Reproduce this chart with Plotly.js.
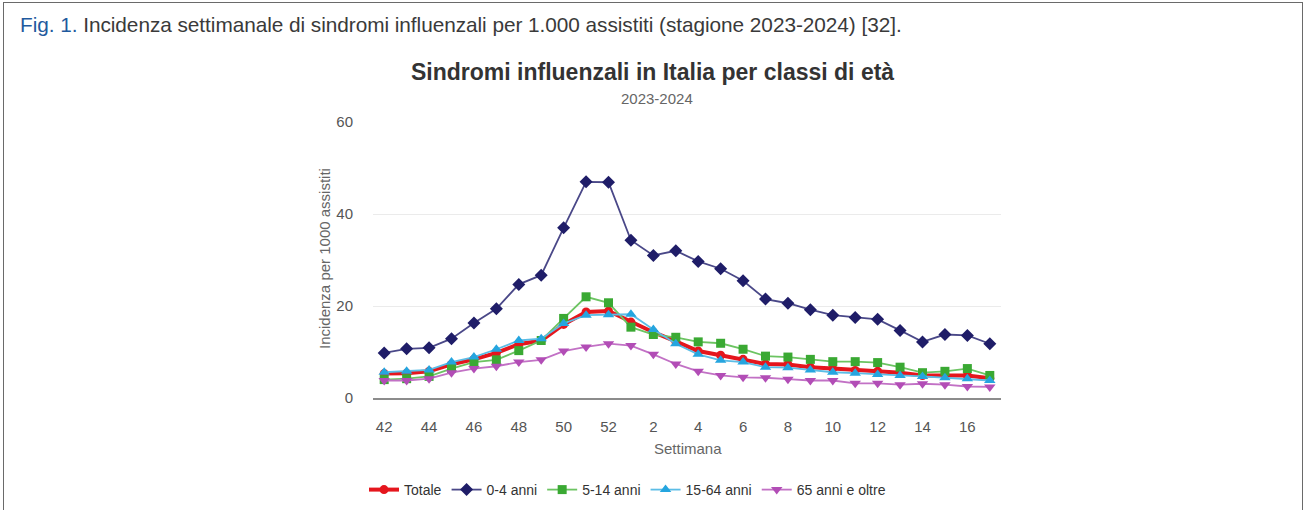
<!DOCTYPE html>
<html>
<head>
<meta charset="utf-8">
<script src="https://cdn.plot.ly/plotly-3.0.1.min.js"></script>
<style>
  html, body { margin:0; padding:0; background:#fff; }
  #wrap { position:relative; width:1304px; height:510px; overflow:hidden; }
  #frame { position:absolute; left:3px; top:2px; width:1298px; height:520px; border:1.5px solid #6a6a6a; border-bottom:none; }
  #caption { position:absolute; left:20px; top:13px; font-family:"Liberation Sans",sans-serif; font-size:20.8px; color:#3a3a3a; white-space:nowrap; letter-spacing:-0.05px; }
  #caption .fig { color:#1f5a9e; }
  #chart { position:absolute; left:0; top:0; width:1304px; height:510px; }
</style>
</head>
<body>
<div id="wrap">
  <div id="chart"></div>
  <div id="frame"></div>
  <div id="caption"><span class="fig">Fig. 1.</span> Incidenza settimanale di sindromi influenzali per 1.000 assistiti (stagione 2023-2024) [32].</div>
</div>
<script>
const weeks = ['42','43','44','45','46','47','48','49','50','51','52','1','2','3','4','5','6','7','8','9','10','11','12','13','14','15','16','17'];
const tickLabels = ['42','44','46','48','50','52','2','4','6','8','10','12','14','16'];
const totale  = [5.3,5.4,5.8,7.3,8.4,9.8,11.7,12.5,16.0,18.7,18.9,16.5,14.3,12.3,10.2,9.3,8.4,7.4,7.3,6.7,6.4,6.0,5.8,5.5,4.9,4.9,4.9,4.3];
const age0_4  = [9.8,10.7,10.9,12.9,16.3,19.4,24.7,26.7,37.0,47.0,46.9,34.3,31.0,32.0,29.7,28.1,25.5,21.5,20.6,19.2,18.0,17.5,17.1,14.7,12.2,13.8,13.6,11.8];
const age5_14 = [4.0,4.2,4.7,6.4,7.8,8.3,10.3,12.5,17.3,22.0,20.7,15.4,13.8,13.2,12.2,11.9,10.6,9.1,8.9,8.4,7.9,7.9,7.7,6.7,5.5,5.8,6.4,4.9];
const age15_64= [5.6,5.8,6.1,7.8,8.9,10.6,12.5,12.9,16.2,18.0,18.1,18.2,14.9,11.8,9.5,8.2,7.8,6.7,6.6,6.1,5.6,5.4,5.1,4.9,4.7,4.4,4.2,3.8];
const age65   = [3.8,3.8,4.2,5.5,6.4,6.9,7.8,8.3,10.2,11.1,11.8,11.4,9.5,7.4,5.8,4.9,4.5,4.4,4.1,3.8,3.8,3.2,3.2,2.9,3.1,2.9,2.5,2.4];
const seriesNames = ['Totale','0-4 anni','5-14 anni','15-64 anni','65 anni e oltre'];

const W = 1304, H = 510;
const L = 373, R = 1001, T = 122, B = 398;
const px = x => (x - L) / (R - L);
const py = y => (B - y) / (B - T);
const FONT = '"Liberation Sans", Arial, sans-serif';

function tr(name, y, color, lineColor, symbol, size, lw) {
  return {
    type:'scatter', mode:'lines+markers', name:name, x:weeks, y:y,
    line:{color:lineColor, width:lw},
    marker:{color:color, symbol:symbol, size:size, line:{width:0}},
    hoverinfo:'x+y+name'
  };
}

const data = [
  tr(seriesNames[0], totale,  '#e5161d', '#e5161d', 'circle', 9, 4),
  tr(seriesNames[1], age0_4,  '#1f1d68', '#4a4888', 'diamond', 10, 1.8),
  tr(seriesNames[2], age5_14, '#3aa933', '#6cc462', 'square', 9, 1.8),
  tr(seriesNames[3], age15_64,'#25a5df', '#5cbde6', 'triangle-up', 10, 1.8),
  tr(seriesNames[4], age65,   '#b24db6', '#c271c5', 'triangle-down', 10, 1.8)
];

const layout = {
  width:W, height:H,
  margin:{l:L, r:W-R, t:T, b:H-B, pad:0, autoexpand:false},
  paper_bgcolor:'rgba(0,0,0,0)', plot_bgcolor:'#fff',
  font:{family:FONT, color:'#666', size:15},
  showlegend:true,
  legend:{orientation:'h', x:px(364), xanchor:'left', y:py(490), yanchor:'middle',
          font:{family:FONT, size:14, color:'#333'}, itemwidth:30, tracegroupgap:0, bgcolor:'rgba(0,0,0,0)'},
  xaxis:{type:'category', range:[-0.5, 27.5], tickmode:'array', tickvals:tickLabels, ticktext:tickLabels,
         ticks:'outside', ticklen:14, tickcolor:'rgba(0,0,0,0)', showgrid:false,
         showline:true, linecolor:'#8c8c8c', linewidth:2, zeroline:false,
         tickfont:{family:FONT, size:15, color:'#555'}, fixedrange:true},
  yaxis:{range:[0,60], tickvals:[0,20,40,60], ticks:'outside', ticklen:16, tickcolor:'rgba(0,0,0,0)',
         showgrid:true, gridcolor:'#ebebeb', gridwidth:1, zeroline:false, showline:false,
         tickfont:{family:FONT, size:15, color:'#555'}, fixedrange:true},
  annotations:[
    {text:'Sindromi influenzali in Italia per classi di età', xref:'paper', yref:'paper', x:px(652), y:py(72),
     xanchor:'center', yanchor:'middle', showarrow:false, font:{family:FONT, size:23, color:'#333', weight:'bold'}},
    {text:'2023-2024', xref:'paper', yref:'paper', x:px(657), y:py(98), xanchor:'center', yanchor:'middle',
     showarrow:false, font:{family:FONT, size:15, color:'#666'}},
    {text:'Incidenza per 1000 assistiti', xref:'paper', yref:'paper', x:px(324), y:py(259), textangle:-90,
     xanchor:'center', yanchor:'middle', showarrow:false, font:{family:FONT, size:15, color:'#666'}},
    {text:'Settimana', xref:'paper', yref:'paper', x:px(688), y:py(448), xanchor:'center', yanchor:'middle',
     showarrow:false, font:{family:FONT, size:15, color:'#666'}}
  ]
};

Plotly.newPlot('chart', data, layout, {displayModeBar:false, staticPlot:true});
</script>
</body>
</html>
